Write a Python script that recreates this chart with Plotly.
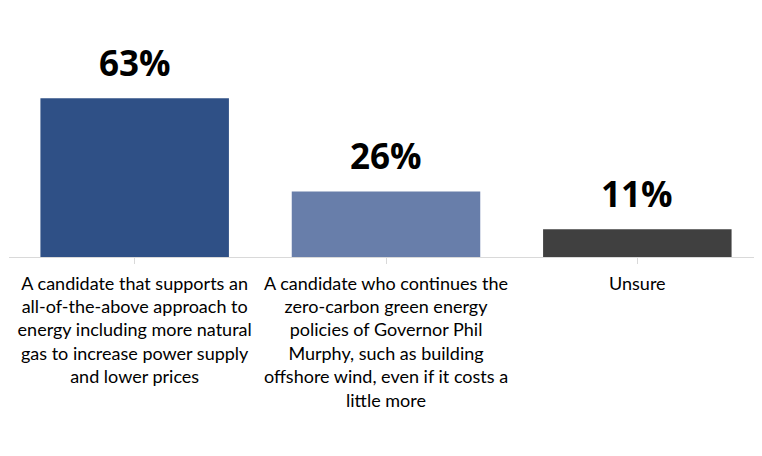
import plotly.graph_objects as go

categories = [
    "A candidate that supports an<br>all-of-the-above approach to<br>energy including more natural<br>gas to increase power supply<br>and lower prices",
    "A candidate who continues the<br>zero-carbon green energy<br>policies of Governor Phil<br>Murphy, such as building<br>offshore wind, even if it costs a<br>little more",
    "Unsure",
]
values = [63, 26, 11]
labels = ["63%", "26%", "11%"]
colors = ["#2F5086", "#687EAA", "#404040"]

fig = go.Figure()
fig.add_trace(go.Bar(
    x=list(range(len(categories))), y=values,
    marker=dict(color=colors, line=dict(width=0)),
    width=0.75,
    hoverinfo="skip",
))
for i, (v, t) in enumerate(zip(values, labels)):
    fig.add_annotation(x=i, y=v, text="<b>%s</b>" % t, showarrow=False,
                       yanchor="bottom", yshift=10,
                       font=dict(family="Open Sans", size=35, color="#000000"))

fig.update_layout(
    width=762, height=456,
    margin=dict(l=1, r=7, t=12, b=207, autoexpand=False),
    paper_bgcolor="white", plot_bgcolor="white",
    showlegend=False,
    bargap=0.25,
    font=dict(family="Lato", size=18, color="#000000"),
)
fig.update_xaxes(
    tickmode="array", tickvals=list(range(len(categories))), ticktext=categories,
    range=[-0.5, 2.5], automargin=False,
    showline=True, linecolor="#D9D9D9", linewidth=1,
    ticks="outside", tickson="boundaries", ticklen=6, tickcolor="#D9D9D9",
    ticklabelstandoff=4,
    showgrid=False, tickangle=0,
    tickfont=dict(family="Lato", size=18, color="#000000"),
)
fig.update_yaxes(range=[0, 94], visible=False, showgrid=False, zeroline=False, automargin=False)

fig.write_html("out.html")
